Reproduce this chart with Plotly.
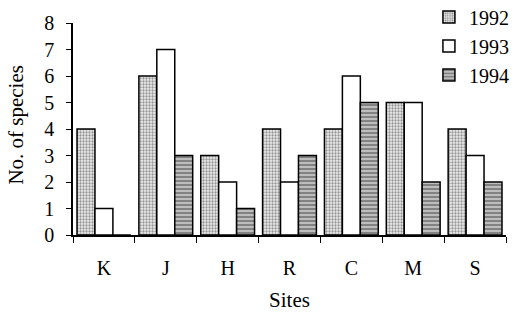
import plotly.graph_objects as go

sites = ["K", "J", "H", "R", "C", "M", "S"]
y1992 = [4, 6, 3, 4, 4, 5, 4]
y1993 = [1, 7, 2, 2, 6, 5, 3]
y1994 = [0, 3, 1, 3, 5, 2, 2]
ytick_vals = [0, 1, 2, 3, 4, 5, 6, 7, 8]

FONT = "Liberation Serif"

fig = go.Figure()
fig.add_trace(go.Bar(
    x=sites, y=y1992, name="1992",
    marker=dict(color="#e0e0e0", line=dict(color="black", width=1.5),
                pattern=dict(shape=".", fgcolor="#3a3a3a", bgcolor="#ededed", size=3, solidity=0.45)),
))
fig.add_trace(go.Bar(
    x=sites, y=y1993, name="1993",
    marker=dict(color="white", line=dict(color="black", width=1.5)),
))
fig.add_trace(go.Bar(
    x=sites, y=y1994, name="1994",
    marker=dict(color="#a0a0a0", line=dict(color="black", width=1.5),
                pattern=dict(shape="-", fgcolor="#3a3a3a", bgcolor="#bdbdbd", size=4, solidity=0.45)),
))

fig.update_layout(
    width=517, height=312,
    margin=dict(l=73, r=11, t=23, b=77, autoexpand=False),
    paper_bgcolor="white", plot_bgcolor="white",
    barmode="group", bargap=0.13, bargroupgap=0,
    font=dict(family=FONT, size=19, color="black"),
    legend=dict(x=0.822, y=1.12, xanchor="left", yanchor="top",
                font=dict(family=FONT, size=20), itemwidth=30,
                bgcolor="rgba(0,0,0,0)"),
    xaxis=dict(
        showline=True, linecolor="black", linewidth=1.5,
        ticks="outside", ticklen=6, tickcolor="black", tickson="boundaries",
        showgrid=False, tickfont=dict(family=FONT, size=20),
        ticklabelstandoff=14,
        title=dict(text="Sites", font=dict(family=FONT, size=21), standoff=19),
    ),
    yaxis=dict(
        range=[0, 8], tickvals=ytick_vals,
        showline=True, linecolor="black", linewidth=1.5,
        ticks="outside", ticklen=5, tickcolor="black",
        showgrid=False, zeroline=False, tickfont=dict(family=FONT, size=20),
        ticklabelstandoff=8,
    ),
    annotations=[dict(
        text="No. of species", textangle=-90, showarrow=False,
        xref="paper", yref="paper", x=-0.132, y=0.52,
        xanchor="center", yanchor="middle",
        font=dict(family=FONT, size=21),
    )],
)

fig.write_html("out.html", config={"displayModeBar": False},
               post_script="document.body.style.margin='0';document.body.style.overflow='hidden';")
